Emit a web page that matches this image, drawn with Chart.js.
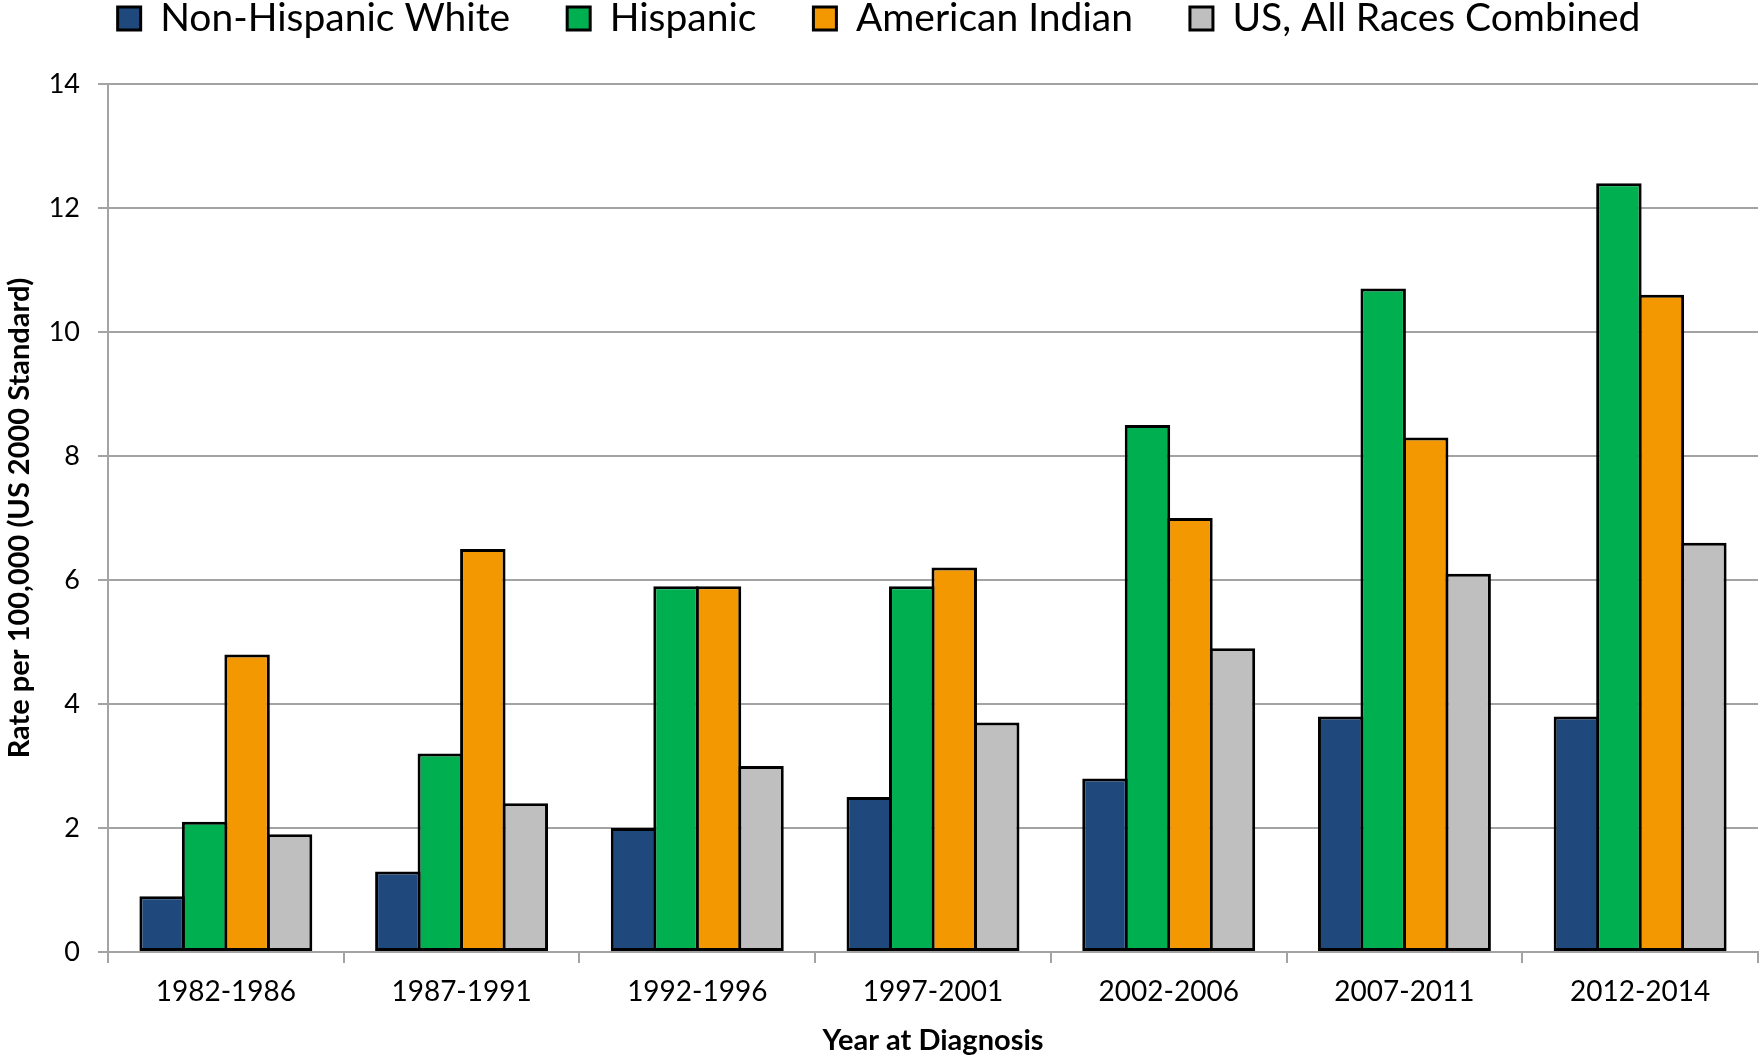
<!DOCTYPE html>
<html>
<head>
<meta charset="utf-8">
<title>Incidence rate by year at diagnosis</title>
<script src="https://cdn.jsdelivr.net/npm/chart.js@4/dist/chart.umd.min.js"></script>
<style>
  html, body { margin: 0; padding: 0; background: #ffffff; }
  canvas { display: block; }
</style>
</head>
<body>
<canvas id="chart" width="1761" height="1058"></canvas>
<script>
// Diagnosis periods (x categories)
const periods = ['1982-1986', '1987-1991', '1992-1996', '1997-2001', '2002-2006', '2007-2011', '2012-2014'];

// Rates per 100,000, age-adjusted to the US 2000 standard
const nonHispanicWhite = [0.9, 1.3, 2.0, 2.5, 2.8, 3.8, 3.8];
const hispanic         = [2.1, 3.2, 5.9, 5.9, 8.5, 10.7, 12.4];
const americanIndian   = [4.8, 6.5, 5.9, 6.2, 7.0, 8.3, 10.6];
const usAllRaces       = [1.9, 2.4, 3.0, 3.7, 4.9, 6.1, 6.6];

const seriesNames = ['Non-Hispanic White', 'Hispanic', 'American Indian', 'US, All Races Combined'];

// Value axis ticks
const yMin = 0;
const yMax = 14;
const yStep = 2;

const yTitle = 'Rate per 100,000 (US 2000 Standard)';
const xTitle = 'Year at Diagnosis';

const FONT = 'Lato, "Open Sans", "DejaVu Sans", sans-serif';
const GRID = '#a3a3a3';
const LEGEND_GAP = 57;     // horizontal space between legend entries
const LEGEND_BAND = 85;    // height reserved for the legend above the plot

// Keep the legend band a fixed height while still using wide item spacing
const legendBand = {
  id: 'legendBand',
  beforeInit(chart) {
    const lg = chart.legend;
    if (!lg) return;
    const fit = lg.fit.bind(lg);
    lg.fit = function () {
      fit();
      this.height = LEGEND_BAND + LEGEND_GAP;
    };
  }
};

const colors = ['#1f497d', '#00b050', '#f39800', '#bfbfbf'];
const values = [nonHispanicWhite, hispanic, americanIndian, usAllRaces];

const datasets = seriesNames.map((name, i) => ({
  label: name,
  data: values[i],
  backgroundColor: colors[i],
  borderColor: '#000000',
  borderWidth: 3,
  borderSkipped: false,
  categoryPercentage: 0.721,
  barPercentage: 1.07
}));

Chart.defaults.font.family = FONT;
Chart.defaults.color = '#000000';

new Chart(document.getElementById('chart'), {
  type: 'bar',
  data: { labels: periods, datasets },
  plugins: [legendBand],
  options: {
    responsive: false,
    animation: false,
    devicePixelRatio: 1,
    layout: { padding: { top: -LEGEND_GAP - 1, right: 3, bottom: 0, left: 0 } },
    plugins: {
      tooltip: { enabled: false },
      legend: {
        position: 'top',
        align: 'center',
        labels: {
          color: '#000000',
          font: { size: 39, family: FONT },
          boxWidth: 23,
          boxHeight: 23,
          padding: LEGEND_GAP
        }
      }
    },
    scales: {
      x: {
        offset: true,
        grid: {
          offset: true,
          drawOnChartArea: false,
          drawTicks: true,
          tickLength: 11,
          color: GRID,
          lineWidth: 2
        },
        border: { display: true, color: GRID, width: 2 },
        ticks: {
          color: '#000000',
          font: { size: 28, family: FONT },
          padding: 12,
          maxRotation: 0
        },
        title: {
          display: true,
          text: xTitle,
          color: '#000000',
          font: { size: 29, weight: 'bold', family: FONT },
          padding: { top: 0, bottom: 0 }
        },
        afterFit(scale) { scale.height = 106; }
      },
      y: {
        min: yMin,
        max: yMax,
        ticks: {
          stepSize: yStep,
          color: '#000000',
          font: { size: 27, family: FONT },
          padding: 18
        },
        grid: {
          color: GRID,
          lineWidth: 2,
          drawTicks: true,
          tickLength: 10
        },
        border: { display: true, color: GRID, width: 2 },
        title: {
          display: true,
          text: yTitle,
          color: '#000000',
          font: { size: 29, weight: 'bold', family: FONT },
          padding: { top: 2, bottom: 0 }
        },
        afterFit(scale) { scale.width = 108; }
      }
    }
  }
});
</script>
</body>
</html>
